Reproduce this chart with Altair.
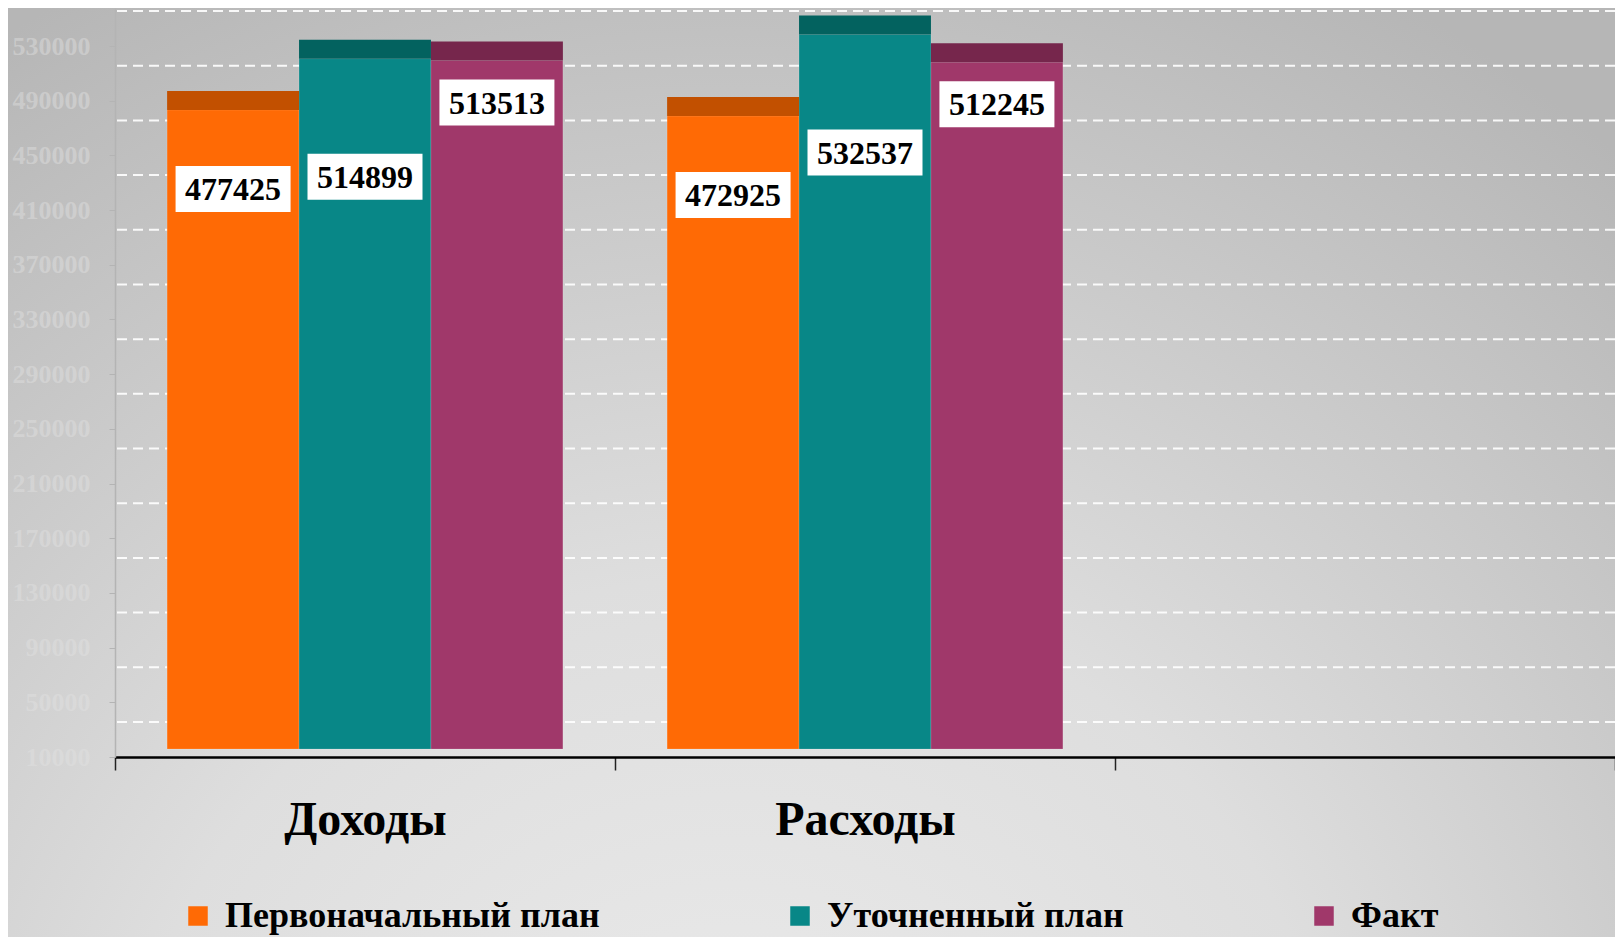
import altair as alt
import pandas as pd

# ---- data ----
categories = ["Доходы", "Расходы"]
axis_categories = ["Доходы", "Расходы", " "]
series_names = ["Первоначальный план", "Уточненный план", "Факт"]
plan_initial = [477425, 472925]
plan_revised = [514899, 532537]
fact = [513513, 512245]
y_ticks = [10000, 50000, 90000, 130000, 170000, 210000, 250000, 290000,
           330000, 370000, 410000, 450000, 490000, 530000]

# ---- styles ----
colors = ["#FF6A05", "#088787", "#A0386A"]
cap_colors = ["#C25000", "#03625F", "#76264C"]
label_dy = [71, 110, 34]          # per-series label placement (px below bar top)
BAR_SHIFT = -8                    # 3D floor lift (px)
CAP_DEPTH = 13900                 # depth of the 3D top face, in value units
WALL_DEPTH = 25600                # back-wall gridline offset, in value units
SERIF = "Liberation Serif"

rows = []
for s, vals in zip(series_names, [plan_initial, plan_revised, fact]):
    for c, v in zip(categories, vals):
        rows.append({"category": c, "series": s, "value": v})
df = pd.DataFrame(rows)
grid_df = pd.DataFrame({"tick": y_ticks})

W, H = 1500, 749
BOTTOM = 180
y_scale = alt.Scale(domain=[10000, 557800], nice=False, zero=False)
x_scale = alt.Scale(domain=axis_categories, paddingInner=0, paddingOuter=0)
xo = alt.XOffset("series:N", sort=series_names,
                 scale=alt.Scale(domain=series_names, paddingInner=0, paddingOuter=0.395))

x_axis = alt.Axis(title=None, labelFont=SERIF, labelFontSize=48, labelFontWeight="bold",
                  labelColor="black", labelPadding=26, labelLimit=1000,
                  domainColor="black", domainWidth=2.5,
                  tickColor="#222222", tickWidth=1.5, tickSize=13, tickBand="extent",
                  labelAngle=0, grid=False, zindex=1)
y_axis = alt.Axis(title=None, values=y_ticks, format="d", labelFont=SERIF, labelFontSize=26,
                  labelFontWeight="bold", labelColor="#e2e2e2", labelOpacity=0.45,
                  labelPadding=19, tickSize=6, tickColor="#b4b4b4", domainColor="#b4b4b4",
                  domainWidth=1.5, grid=False, zindex=1)

X = alt.X("category:N", scale=x_scale, axis=x_axis)
Y = alt.Y("value:Q", scale=y_scale, axis=y_axis)

background = alt.Chart(pd.DataFrame({"a": [0]})).mark_rect(
    fill=alt.RadialGradient(
        gradient="radial",
        stops=[alt.GradientStop(color="#ececec", offset=0),
               alt.GradientStop(color="#dedede", offset=0.45),
               alt.GradientStop(color="#b6b6b6", offset=1)],
        x1=0.45, y1=0.95, r1=0, x2=0.45, y2=0.95, r2=0.85),
    strokeWidth=0
).encode(x=alt.value(-107), x2=alt.value(W), y=alt.value(-8), y2=alt.value(H + BOTTOM))

grid = alt.Chart(grid_df).transform_calculate(
    g=f"datum.tick + {WALL_DEPTH}"
).mark_rule(color="white", strokeWidth=2, strokeDash=[10, 6], opacity=0.9).encode(
    y=alt.Y("g:Q", scale=y_scale, axis=y_axis)
)

bars = alt.Chart(df).mark_bar(yOffset=BAR_SHIFT, y2Offset=BAR_SHIFT, stroke="#ffffff",
                              strokeOpacity=0.15, strokeWidth=1).encode(
    x=X, xOffset=xo, y=Y, y2=alt.Y2Datum(10000),
    color=alt.Color("series:N", sort=series_names,
                    scale=alt.Scale(domain=series_names, range=colors),
                    legend=alt.Legend(title=None, orient="none", legendX=65, legendY=890,
                                      direction="horizontal", symbolType="square",
                                      symbolSize=380, symbolStrokeWidth=0,
                                      labelFont=SERIF, labelFontSize=36, labelFontWeight="bold",
                                      labelColor="black", labelLimit=1000, labelOffset=9,
                                      columnPadding=182))
)

layers = [background, grid, bars]
for s, cc, dy in zip(series_names, cap_colors, label_dy):
    sub = alt.Chart(df).transform_filter(alt.datum.series == s)
    cap = sub.transform_calculate(top=f"datum.value + {CAP_DEPTH}").mark_bar(
        yOffset=BAR_SHIFT, y2Offset=BAR_SHIFT, color=cc
    ).encode(x=X, xOffset=xo, y=Y, y2="top:Q")
    box = sub.mark_point(shape="M-1,-0.4H1V0.4H-1Z", size=13225, filled=True,
                         fill="white", opacity=1, strokeWidth=0, yOffset=dy
                         ).encode(x=X, xOffset=xo, y=Y)
    txt = sub.mark_text(font=SERIF, fontSize=32, fontWeight="bold", color="black",
                        baseline="middle", align="center", yOffset=dy + 1
                        ).encode(x=X, xOffset=xo, y=Y, text=alt.Text("value:Q", format="d"))
    layers += [cap, box, txt]

chart = alt.layer(*layers).properties(
    width=W, height=H,
    autosize=alt.AutoSizeParams(type="none"),
    padding={"left": 107, "top": 0, "right": 0, "bottom": BOTTOM},
    background="#c8c8c8"
).configure_view(stroke=None)

chart.save("out.html", embed_options={"renderer": "svg", "actions": False})
